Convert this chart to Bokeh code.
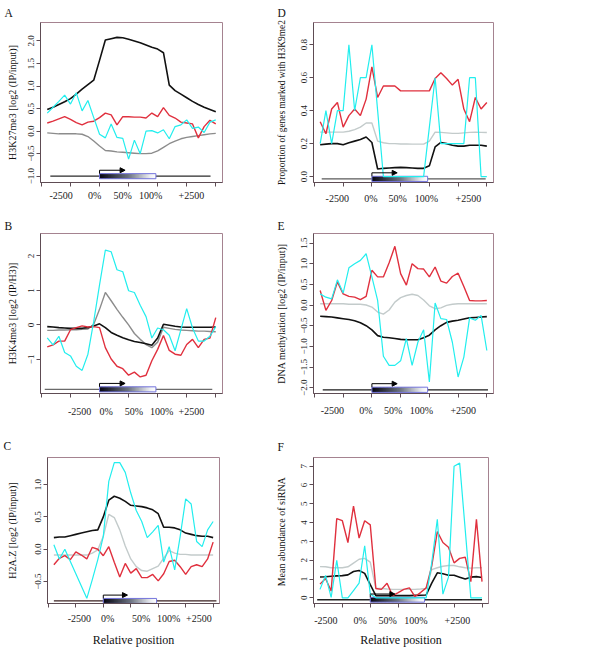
from bokeh.plotting import figure
from bokeh.layouts import column, row
from bokeh.models import Range1d, FixedTicker, Arrow, NormalHead
from bokeh.embed import file_html
from bokeh.resources import INLINE

# ---------------- data ----------------
POS = list(range(1, 31))                 # 10 upstream bins, 10 gene-body bins, 10 downstream bins
X_MINOR = [0, 5, 10, 15, 20, 25, 30]
X_LABELS = ["-2500", "0%", "50%", "100%", "+2500"]

A_black = [0.48, 0.53, 0.59, 0.65, 0.72, 0.82, 0.93, 1.03, 1.13, 1.57, 2.02, 2.05, 2.08, 2.07, 2.04,
           2.00, 1.96, 1.91, 1.86, 1.82, 1.74, 1.02, 0.90, 0.82, 0.74, 0.66, 0.59, 0.53, 0.48, 0.43]
A_gray = [-0.04, -0.05, -0.06, -0.06, -0.06, -0.06, -0.07, -0.12, -0.22, -0.33, -0.43, -0.44, -0.46, -0.47, -0.48,
          -0.49, -0.50, -0.50, -0.49, -0.44, -0.36, -0.28, -0.22, -0.17, -0.14, -0.12, -0.10, -0.08, -0.06, -0.05]
A_red = [0.18, 0.22, 0.27, 0.32, 0.26, 0.19, 0.14, 0.20, 0.22, 0.30, 0.40, 0.36, 0.14, 0.32, 0.32,
         0.31, 0.31, 0.29, 0.40, 0.32, 0.52, 0.35, 0.29, 0.20, 0.18, 0.16, -0.15, 0.10, 0.24, 0.16]
A_cyan = [0.40, 0.53, 0.66, 0.80, 0.60, 0.85, 0.45, 0.68, 0.30, -0.07, -0.15, 0.16, -0.14, -0.16, -0.62,
          -0.20, -0.50, 0.00, 0.01, -0.04, 0.03, -0.17, 0.10, 0.14, 0.25, 0.06, 0.09, -0.03, 0.20, 0.25]

B_black = [-0.05, -0.06, -0.08, -0.09, -0.10, -0.10, -0.10, -0.08, -0.03, 0.03, -0.08, -0.22, -0.30, -0.37, -0.43,
           -0.48, -0.51, -0.55, -0.59, -0.38, 0.02, -0.01, -0.04, -0.06, -0.07, -0.07, -0.07, -0.07, -0.07, -0.06]
B_gray = [-0.16, -0.16, -0.15, -0.15, -0.14, -0.14, -0.13, -0.12, 0.02, 0.45, 0.94, 0.70, 0.45, 0.22, 0.00,
          -0.25, -0.42, -0.57, -0.66, -0.50, -0.07, -0.10, -0.13, -0.15, -0.16, -0.17, -0.18, -0.18, -0.19, -0.20]
B_red = [-0.64, -0.58, -0.47, -0.47, -0.14, -0.08, -0.03, -0.06, -0.05, -0.08, -0.66, -0.99, -1.20, -1.27, -1.46,
         -1.37, -1.51, -1.46, -1.04, -0.71, -0.31, -0.74, -0.85, -0.88, -0.57, -0.42, -0.66, -0.42, -0.38, 0.21]
B_cyan = [-0.38, -0.58, -0.33, -0.80, -0.90, -1.20, -1.32, -0.85, 0.10, 1.16, 2.17, 2.12, 1.60, 1.54, 0.99,
          0.94, 0.57, 0.24, -0.38, -0.09, -0.14, -0.30, -0.75, -0.14, 0.47, -0.09, -0.47, -0.47, -0.33, -0.05]

C_black = [0.18, 0.19, 0.19, 0.21, 0.23, 0.25, 0.27, 0.29, 0.30, 0.50, 0.76, 0.82, 0.79, 0.74, 0.68,
           0.67, 0.66, 0.64, 0.61, 0.55, 0.34, 0.34, 0.33, 0.30, 0.25, 0.23, 0.21, 0.20, 0.20, 0.18]
C_gray = [-0.09, -0.09, -0.09, -0.09, -0.09, -0.09, -0.09, -0.06, -0.01, 0.20, 0.54, 0.49, 0.30, 0.05, -0.15,
          -0.27, -0.33, -0.34, -0.30, -0.26, -0.14, -0.02, -0.06, -0.08, -0.08, -0.09, -0.09, -0.09, -0.09, -0.09]
C_red = [-0.24, -0.14, -0.10, -0.16, -0.04, -0.09, -0.15, 0.03, 0.00, -0.10, 0.04, -0.20, -0.43, -0.22, -0.37,
         -0.30, -0.44, -0.44, -0.39, -0.49, -0.38, -0.19, -0.17, -0.27, -0.39, -0.27, -0.24, -0.27, -0.15, 0.11]
C_cyan = [0.07, -0.15, 0.00, -0.19, -0.38, -0.57, -0.76, -0.47, -0.16, 0.20, 1.05, 1.34, 1.34, 1.19, 0.87,
          0.60, 0.43, 0.18, 0.27, 0.37, -0.20, 0.04, -0.32, 0.20, 0.78, 0.70, 0.12, 0.04, 0.30, 0.43]

D_black = [0.193, 0.197, 0.200, 0.200, 0.193, 0.205, 0.215, 0.225, 0.240, 0.207, 0.046, 0.050, 0.052, 0.054, 0.056,
           0.054, 0.052, 0.050, 0.050, 0.065, 0.180, 0.207, 0.200, 0.190, 0.185, 0.185, 0.190, 0.190, 0.190, 0.185]
D_gray = [0.270, 0.270, 0.270, 0.270, 0.270, 0.275, 0.285, 0.300, 0.325, 0.325, 0.215, 0.205, 0.200, 0.200, 0.198,
          0.198, 0.197, 0.197, 0.197, 0.215, 0.270, 0.268, 0.265, 0.262, 0.262, 0.265, 0.268, 0.270, 0.268, 0.267]
D_red = [0.333, 0.260, 0.410, 0.450, 0.300, 0.370, 0.410, 0.370, 0.470, 0.665, 0.480, 0.550, 0.550, 0.550, 0.520,
         0.520, 0.520, 0.520, 0.520, 0.520, 0.595, 0.630, 0.595, 0.555, 0.590, 0.410, 0.333, 0.480, 0.410, 0.450]
D_cyan = [0.2, 0.4, 0.2, 0.4, 0.4, 0.8, 0.4, 0.6, 0.6, 0.8, 0.4, 0.0, 0.0, 0.0, 0.0,
          0.0, 0.0, 0.0, 0.0, 0.3, 0.6, 0.2, 0.2, 0.2, 0.2, 0.2, 0.6, 0.6, 0.0, 0.0]

E_black = [-0.27, -0.28, -0.29, -0.31, -0.33, -0.35, -0.38, -0.43, -0.50, -0.60, -0.74, -0.78, -0.79, -0.81, -0.83,
           -0.84, -0.84, -0.84, -0.79, -0.73, -0.60, -0.50, -0.42, -0.39, -0.37, -0.34, -0.31, -0.30, -0.29, -0.28]
E_gray = [0.03, 0.03, 0.03, 0.03, 0.03, 0.02, 0.02, 0.02, 0.00, -0.05, -0.17, -0.22, -0.12, 0.07, 0.18,
          0.23, 0.26, 0.23, 0.12, -0.02, -0.09, -0.07, -0.01, 0.02, 0.03, 0.03, 0.03, 0.03, 0.03, 0.03]
E_red = [0.35, -0.13, 0.11, 0.56, 0.27, 0.21, 0.19, 0.13, 0.21, 0.84, 0.68, 0.68, 1.02, 1.42, 0.76,
         0.48, 1.00, 0.88, 0.87, 0.68, 0.92, 0.58, 0.53, 0.69, 0.77, 0.45, 0.11, 0.10, 0.10, 0.11]
E_cyan = [0.27, 0.19, 0.15, 0.61, 0.29, 0.90, 1.00, 1.08, 1.24, 0.68, 0.11, -1.24, -1.46, -1.46, -1.35,
          -0.81, -1.46, -0.90, -0.60, -1.86, 0.05, -0.33, -0.35, -0.90, -1.74, -1.26, -0.31, -0.37, -0.25, -1.10]

F_black = [1.11, 1.12, 1.15, 1.17, 1.18, 1.22, 1.40, 1.45, 1.30, 0.70, 0.12, 0.12, 0.12, 0.12, 0.12,
           0.12, 0.12, 0.13, 0.14, 0.15, 0.78, 1.33, 1.28, 1.20, 1.20, 1.10, 1.00, 1.10, 1.13, 1.08]
F_gray = [1.66, 1.65, 1.60, 1.60, 1.60, 1.65, 1.85, 2.05, 2.10, 1.90, 0.50, 0.50, 0.47, 0.45, 0.45,
          0.45, 0.45, 0.45, 0.47, 0.50, 1.50, 1.60, 1.68, 1.72, 1.72, 1.65, 1.60, 1.58, 1.60, 1.60]
F_red = [0.73, 1.03, 0.36, 4.21, 4.10, 2.94, 4.88, 3.18, 4.10, 3.88, 0.50, 0.45, 0.78, 0.12, 0.28,
         0.45, 0.53, 0.07, 0.28, 0.53, 1.69, 3.52, 2.94, 2.69, 1.86, 2.10, 2.16, 0.86, 4.18, 0.86]
F_cyan = [0.45, 1.19, 0.03, 2.00, 0.00, 0.00, 0.39, 0.78, 2.77, 0.20, 0.00, 0.00, 0.00, 0.00, 0.00,
          0.00, 0.00, 0.00, 0.00, 0.00, 1.86, 4.18, 0.20, 1.10, 7.00, 7.16, 3.60, 0.00, 0.00, 0.00]

# ---------------- style ----------------
FONT = "Liberation Serif"
RED = "#e0303e"
CYAN = "#22eeee"
BLACK = "#111111"
GRAY_DARK = "#8c8c8c"
GRAY_LIGHT = "#c3cbcb"
OUTLINE = "#a58390"
AXIS = "#5e4c54"
GENE_START, GENE_END, ARROW_END = 10.0, 19.7, 14.4


def grad_color(t):
    stops = [(0.0, (5, 5, 15)), (0.5, (105, 112, 125)), (0.9, (238, 240, 244)), (1.0, (255, 255, 255))]
    for (t0, c0), (t1, c1) in zip(stops[:-1], stops[1:]):
        if t0 <= t <= t1:
            f = (t - t0) / (t1 - t0)
            c = [int(round(a + (b - a) * f)) for a, b in zip(c0, c1)]
            return "#%02x%02x%02x" % tuple(c)
    return "#ffffff"


def panel(letter, ylabel, black, gray, red, cyan, gray_col, yr, yticks, ylabels, xlab_pos,
          gene_y, gene_span, gene_col, width, height, frame, letter_off, letter_standoff,
          xlab_standoff, ylab_standoff, ylab_size="10px", xtitle=None, xtitle_standoff=4):
    fl, ft, fw, fh = frame
    p = figure(width=width, height=height, output_backend="svg", toolbar_location=None,
               x_range=Range1d(-0.16, 31.16), y_range=Range1d(*yr),
               min_border_left=fl, min_border_top=ft,
               min_border_right=width - fl - fw, min_border_bottom=height - ft - fh,
               title=letter)
    p.background_fill_color = "white"
    p.border_fill_color = "white"
    p.xgrid.visible = False
    p.ygrid.visible = False
    p.outline_line_color = OUTLINE
    p.outline_line_width = 1

    p.title.text_font = FONT
    p.title.text_font_size = "11.5px"
    p.title.text_font_style = "normal"
    p.title.text_color = "#111111"
    p.title.align = "left"
    p.title.offset = letter_off
    p.title.standoff = letter_standoff

    # x axis: tick marks (minor) at bin boundaries, labels at their own positions
    xa = p.xaxis[0]
    xa.ticker = FixedTicker(ticks=xlab_pos, minor_ticks=X_MINOR)
    xa.major_label_overrides = {v: s for v, s in zip(xlab_pos, X_LABELS)}
    xa.major_tick_line_color = None
    xa.major_tick_out = 0
    xa.major_tick_in = 0
    xa.minor_tick_out = 4
    xa.minor_tick_in = 0
    xa.minor_tick_line_color = AXIS
    xa.axis_line_color = AXIS
    xa.major_label_text_font = FONT
    xa.major_label_text_font_size = "10px"
    xa.major_label_text_color = "#222222"
    xa.major_label_standoff = xlab_standoff
    if xtitle:
        xa.axis_label = xtitle
        xa.axis_label_text_font = FONT
        xa.axis_label_text_font_size = "12px"
        xa.axis_label_text_font_style = "normal"
        xa.axis_label_text_color = "#111111"
        xa.axis_label_standoff = xtitle_standoff

    ya = p.yaxis[0]
    ya.ticker = FixedTicker(ticks=yticks, minor_ticks=[])
    ya.major_label_overrides = {v: s for v, s in zip(yticks, ylabels)}
    ya.major_label_orientation = "vertical"
    ya.major_tick_out = 4
    ya.major_tick_in = 0
    ya.major_tick_line_color = AXIS
    ya.axis_line_color = AXIS
    ya.major_label_text_font = FONT
    ya.major_label_text_font_size = "9px"
    ya.major_label_text_color = "#222222"
    ya.major_label_standoff = 2
    ya.axis_label = ylabel
    ya.axis_label_text_font = FONT
    ya.axis_label_text_font_size = ylab_size
    ya.axis_label_text_font_style = "normal"
    ya.axis_label_text_color = "#111111"
    ya.axis_label_standoff = ylab_standoff

    # gene diagram
    px = (yr[1] - yr[0]) / fh
    half = 2.6 * px
    p.line(list(gene_span), [gene_y, gene_y], line_color=gene_col, line_width=1.3)
    n = 40
    step = (GENE_END - GENE_START) / n
    lefts = [GENE_START + i * step for i in range(n)]
    p.quad(left=lefts, right=[min(l + step * 1.6, GENE_END) for l in lefts],
           bottom=gene_y - half, top=gene_y + half,
           fill_color=[grad_color((i + 0.5) / n) for i in range(n)], line_color=None)
    p.quad(left=[GENE_START], right=[GENE_END], bottom=[gene_y - half], top=[gene_y + half],
           fill_alpha=0, line_color="#7474dc", line_width=1)
    ay = gene_y + half + 3.5 * px
    p.segment(x0=[GENE_START], y0=[gene_y + half], x1=[GENE_START], y1=[ay], line_color="black", line_width=1)
    p.add_layout(Arrow(end=NormalHead(size=5, line_color="black", fill_color="black", line_width=1),
                       x_start=GENE_START, y_start=ay, x_end=ARROW_END, y_end=ay,
                       line_color="black", line_width=1))

    # profiles
    p.line(POS, gray, line_color=gray_col, line_width=1.4)
    p.line(POS, black, line_color=BLACK, line_width=1.6)
    p.line(POS, red, line_color=RED, line_width=1.4)
    p.line(POS, cyan, line_color=CYAN, line_width=1.2)
    return p


WL, WR = 250, 350
H1, H2, H3 = 216, 212, 221

pA = panel("A", "H3K27me3 [log2 (IP/input)]", A_black, A_gray, A_red, A_cyan, GRAY_DARK,
           (-1.14, 2.41), [-1.0, -0.5, 0.0, 0.5, 1.0, 1.5, 2.0],
           ["\u22121.0", "\u22120.5", "0.0", "0.5", "1.0", "1.5", "2.0"],
           [3.4, 9.15, 14.0, 18.8, 25.8], -1.0, (1.53, 29.1), "#2a2a2a",
           WL, H1, (40, 22, 182, 164), -36, 8, 3, 8)
pD = panel("D", "Proportion of genes marked with H3K9me2", D_black, D_gray, D_red, D_cyan, GRAY_LIGHT,
           (-0.036, 0.935), [0.0, 0.2, 0.4, 0.6, 0.8], ["0.0", "0.2", "0.4", "0.6", "0.8"],
           [3.97, 9.84, 14.5, 19.5, 26.8], -0.014, (1.27, 29.8), "#5a5a5a",
           WR, H1, (63, 21, 180, 161), -36, 7, 6, 12, "9.4px")
pB = panel("B", "H3K4me3 [log2 (IP/H3)]", B_black, B_gray, B_red, B_cyan, GRAY_DARK,
           (-1.99, 2.65), [-1, 0, 1, 2], ["\u22121", "0", "1", "2"],
           [6.57, 11.15, 15.9, 20.7, 25.8], -1.87, (0.57, 29.4), "#6a6a6a",
           WL, H2, (40, 17, 182, 164), -36, 3, 8, 8)
pE = panel("E", "DNA methylation [log2 (IP/input)]", E_black, E_gray, E_red, E_cyan, GRAY_LIGHT,
           (-2.14, 1.73), [-2.0, -1.5, -1.0, -0.5, 0.0, 0.5, 1.0, 1.5],
           ["\u22122.0", "\u22121.5", "\u22121.0", "\u22120.5", "0.0", "0.5", "1.0", "1.5"],
           [3.13, 8.97, 13.7, 18.6, 25.9], -2.05, (1.45, 30.2), "#1a1a1a",
           WR, H2, (63, 17, 180, 160), -36, 3, 7, 12)
pC = panel("C", "H2A.Z [log2 (IP/input)]", C_black, C_gray, C_red, C_cyan, GRAY_LIGHT,
           (-0.84, 1.42), [-0.5, 0.0, 0.5, 1.0], ["\u22120.5", "0.0", "0.5", "1.0"],
           [5.65, 10.8, 16.9, 21.9, 27.4], -0.8, (1.0, 30.6), "#3a2020",
           WL, H3, (47, 29, 172, 153), -44, 12, 5, 15, "10px", "Relative position", 6)
pF = panel("F", "Mean abundance of  siRNA", F_black, F_gray, F_red, F_cyan, GRAY_LIGHT,
           (-0.3, 7.46), [0, 1, 2, 3, 4, 5, 6, 7], ["0", "1", "2", "3", "4", "5", "6", "7"],
           [2.07, 8.2, 13.1, 18.15, 25.6], -0.1, (0.5, 30.0), "#222222",
           WR, H3, (63, 26, 175, 156), -36, 9, 7, 12, "10px", "Relative position", 4)

layout = column(row(pA, pD), row(pB, pE), row(pC, pF))

with open("out.html", "w") as f:
    f.write(file_html(layout, INLINE))
